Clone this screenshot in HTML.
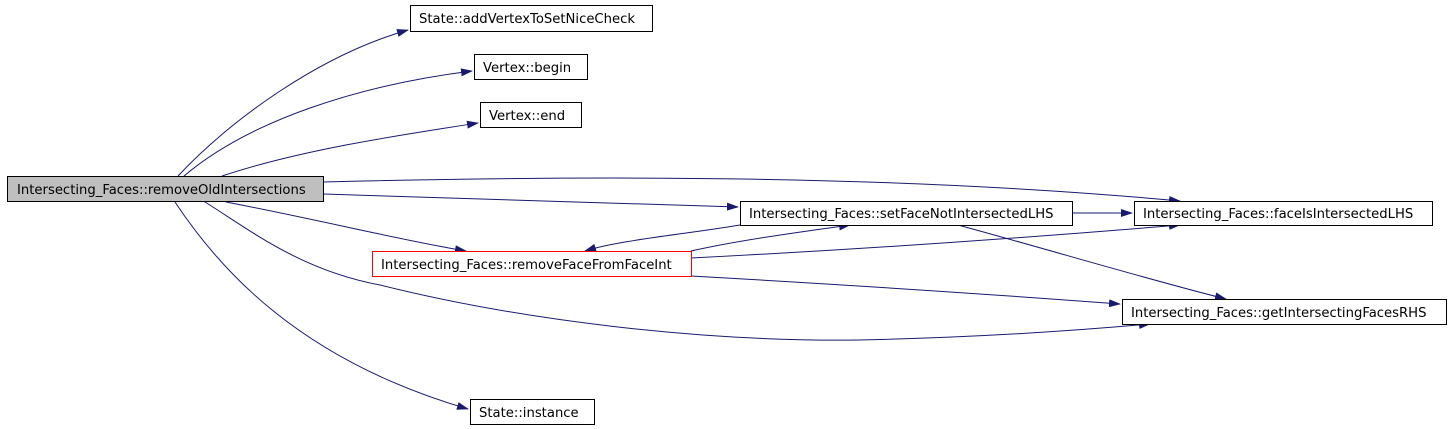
<!DOCTYPE html>
<html><head><style>
body{margin:0;background:#fff;}
svg{display:block}
text{font-family:"DejaVu Sans","Liberation Sans",sans-serif;font-size:13.2px;fill:#000}
</style></head><body>
<svg width="1451" height="429" viewBox="0 0 1451 429" xmlns="http://www.w3.org/2000/svg">
<defs><marker id="a" markerWidth="12" markerHeight="8" refX="11" refY="4" orient="auto" markerUnits="userSpaceOnUse"><path d="M0,0 L12,4 L0,8 z" fill="#191970"/></marker></defs>
<g fill="none" stroke="#191970" stroke-width="1" marker-end="url(#a)">
<path d="M178,176 C230,120 320,55 408,30"/>
<path d="M184,176 C250,120 360,85 472,71"/>
<path d="M222,176 C300,150 400,135 478,123"/>
<path d="M323,182 C600,175 900,175 1180,201"/>
<path d="M323,194 C460,198 600,203 738,207"/>
<path d="M226,202 C320,220 400,240 466,251"/>
<path d="M1072,213 L1132,213"/>
<path d="M740,225 C680,235 620,240 585,251"/>
<path d="M691,251 C740,240 800,232 850,225"/>
<path d="M691,258 C850,250 1000,240 1180,225"/>
<path d="M691,276 C850,285 1000,295 1120,304"/>
<path d="M958,225 C1050,250 1150,280 1226,299"/>
<path d="M205,202 C250,230 300,270 380,285 C520,320 700,342 860,340 C950,338 1050,333 1150,324"/>
<path d="M175,202 C220,270 300,360 468,409"/>
</g>
<rect x="7.5" y="176.5" width="316" height="25" fill="#bfbfbf" stroke="#000"/>
<text x="17" y="194">Intersecting_Faces::removeOldIntersections</text>
<rect x="410.5" y="5.5" width="242" height="26" fill="#fff" stroke="#000"/>
<text x="419" y="23">State::addVertexToSetNiceCheck</text>
<rect x="474.5" y="54.5" width="113" height="25" fill="#fff" stroke="#000"/>
<text x="483" y="72">Vertex::begin</text>
<rect x="480.5" y="102.5" width="101" height="25" fill="#fff" stroke="#000"/>
<text x="489" y="120">Vertex::end</text>
<rect x="740.5" y="201.5" width="332" height="24" fill="#fff" stroke="#000"/>
<text x="749" y="218">Intersecting_Faces::setFaceNotIntersectedLHS</text>
<rect x="1134.5" y="201.5" width="298" height="24" fill="#fff" stroke="#000"/>
<text x="1143" y="218">Intersecting_Faces::faceIsIntersectedLHS</text>
<rect x="372.5" y="251.5" width="319" height="25" fill="#fff" stroke="#ff0000"/>
<text x="381" y="269">Intersecting_Faces::removeFaceFromFaceInt</text>
<rect x="1122.5" y="299.5" width="324" height="25" fill="#fff" stroke="#000"/>
<text x="1131" y="317">Intersecting_Faces::getIntersectingFacesRHS</text>
<rect x="470.5" y="399.5" width="124" height="25" fill="#fff" stroke="#000"/>
<text x="479" y="417">State::instance</text>
</svg>
</body></html>
